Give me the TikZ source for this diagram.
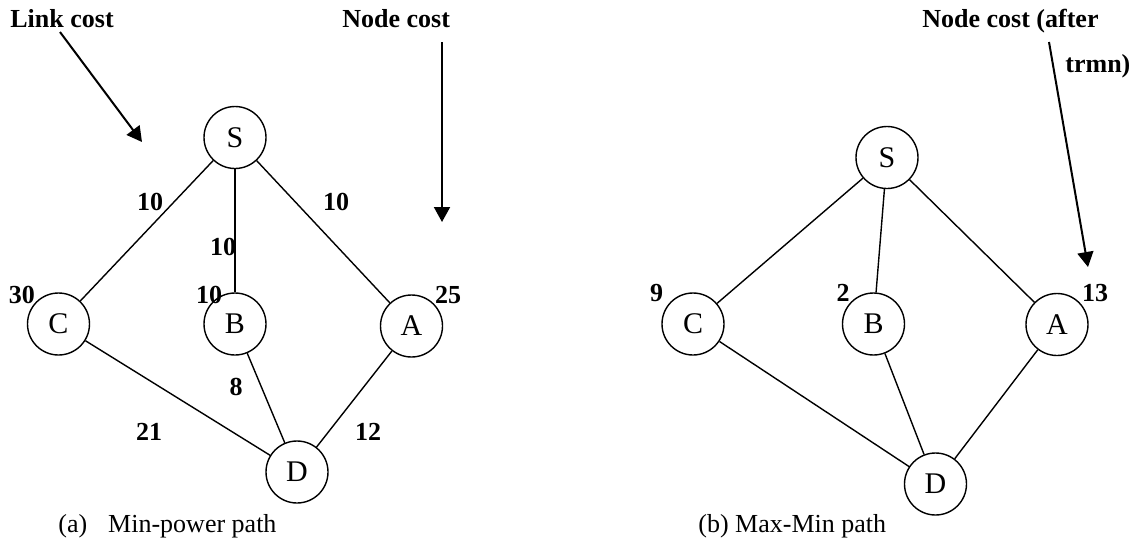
\documentclass[tikz,border=0pt]{standalone}
\usepackage{fontspec}
\setmainfont{Liberation Serif}
\usetikzlibrary{arrows.meta}
\tikzset{
  vert/.style={circle, draw, line width=0.7pt, minimum size=31pt, inner sep=0pt,
    font=\fontsize{15}{17}\selectfont},
  cost/.style={font=\fontsize{13}{15}\selectfont\bfseries, inner sep=0pt},
  capt/.style={font=\fontsize{13}{15}\selectfont, inner sep=0pt, anchor=base west},
  edge/.style={line width=0.7pt},
  pointer/.style={line width=1pt, -{Triangle[length=7.5pt,width=8pt]}},
}
\begin{document}
\begin{tikzpicture}[x=0.5pt, y=-0.5pt]
  \useasboundingbox (0,0) rectangle (1136,542);
  %% (a) Min-power path
  \node[vert] (Sa) at (235,137.5) {S};
  \node[vert] (Ca) at (58.5,324) {C};
  \node[vert] (Ba) at (235,324) {B};
  \node[vert] (Aa) at (411.5,326) {A};
  \node[vert] (Da) at (297,472) {D};
  \draw[edge] (Sa) -- (Ca);
  \draw[edge] (Sa) -- (Ba);
  \draw[edge] (Sa) -- (Aa);
  \draw[edge] (Ca) -- (Da);
  \draw[edge] (Ba) -- (Da);
  \draw[edge] (Aa) -- (Da);
  %% link costs
  \node[cost] (lsc) at (150,202) {10};
  \node[cost] (lsa) at (336,202) {10};
  \node[cost] (lsb) at (223,247) {10};
  \node[cost] (lbd) at (236,387) {8};
  \node[cost] (lcd) at (149,432) {21};
  \node[cost] (lad) at (368,432) {12};
  %% node costs
  \node[cost] (nc) at (22,295) {30};
  \node[cost] (nb) at (209,295) {10};
  \node[cost] (na) at (448,295) {25};
  %% pointers
  \node[cost, anchor=base west] (linkcost) at (10,27) {Link cost};
  \node[cost, anchor=base west] (nodecost) at (342,27) {Node cost};
  \coordinate (linktip) at (142,142);
  \coordinate (nodetip) at (442,222);
  \draw[pointer] (60,32) -- (linktip);
  \draw[pointer] (442,42) -- (nodetip);
  \node[capt] (capa) at (58,532) {(a)\hspace{10.5pt}Min-power path};
  %% (b) Max-Min path
  \node[vert] (Sb) at (887,157.5) {S};
  \node[vert] (Cb) at (693,324) {C};
  \node[vert] (Bb) at (873.5,324) {B};
  \node[vert] (Ab) at (1057,324.5) {A};
  \node[vert] (Db) at (935.5,484) {D};
  \draw[edge] (Sb) -- (Cb);
  \draw[edge] (Sb) -- (Bb);
  \draw[edge] (Sb) -- (Ab);
  \draw[edge] (Cb) -- (Db);
  \draw[edge] (Bb) -- (Db);
  \draw[edge] (Ab) -- (Db);
  %% node costs after trmn
  \node[cost] (mc) at (656.5,293) {9};
  \node[cost] (mb) at (843,293) {2};
  \node[cost] (ma) at (1095,293) {13};
  \node[cost, anchor=base west] (aftercost) at (922,27) {Node cost (after};
  \node[cost, anchor=base west] (trmn) at (1065,72) {trmn)};
  \coordinate (aftertip) at (1088,267);
  \draw[pointer] (1049,42) -- (aftertip);
  \node[capt] (capb) at (698,532) {(b) Max-Min path};
\end{tikzpicture}
\end{document}
